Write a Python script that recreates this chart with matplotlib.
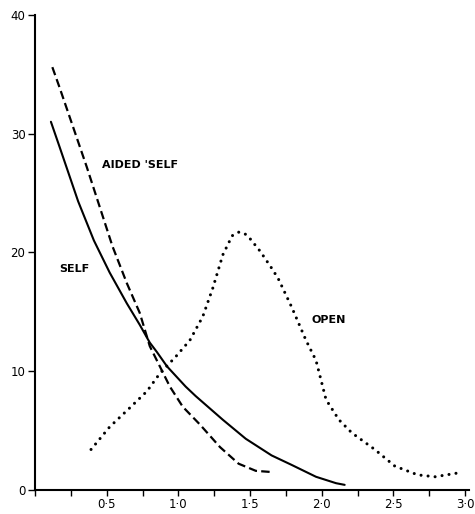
import matplotlib
matplotlib.use("Agg")
import matplotlib.pyplot as plt
from matplotlib.ticker import FixedLocator, MultipleLocator

# values
aided_x = [0.12, 0.17, 0.36, 0.54, 0.64, 0.73, 0.80, 0.87, 0.94, 1.03, 1.15, 1.29, 1.42, 1.54, 1.65]
aided_y = [35.6, 33.9, 27.2, 20.5, 17.4, 14.9, 12.1, 10.4, 8.7, 7.0, 5.5, 3.6, 2.2, 1.6, 1.5]

self_x = [0.11, 0.17, 0.30, 0.41, 0.52, 0.64, 0.73, 0.80, 0.85, 0.92, 1.05, 1.12, 1.31, 1.47,
          1.65, 1.79, 1.96, 2.10, 2.16]
self_y = [31.0, 28.9, 24.3, 21.0, 18.3, 15.7, 13.9, 12.4, 11.6, 10.4, 8.7, 7.9, 5.9, 4.3,
          2.9, 2.1, 1.1, 0.56, 0.42]

open_x = [0.39, 0.52, 0.66, 0.78, 0.87, 0.98, 1.08, 1.17, 1.24, 1.31, 1.375, 1.42, 1.46, 1.49,
          1.57, 1.66, 1.70, 1.79, 1.89, 1.96, 2.03, 2.12, 2.21, 2.37, 2.51, 2.67, 2.79, 2.94]
open_y = [3.4, 5.3, 6.9, 8.3, 9.8, 11.2, 12.6, 14.6, 17.0, 19.8, 21.4, 21.7, 21.6, 21.3,
          20.1, 18.5, 17.7, 15.4, 12.6, 10.9, 7.6, 5.9, 4.8, 3.4, 2.0, 1.26, 1.1, 1.4]

x_ticks = [0.5, 1.0, 1.5, 2.0, 2.5, 3.0]
x_labels = ['0·5', '1·0', '1·5', '2·0', '2·5', '3·0']
y_ticks = [0, 10, 20, 30, 40]

fig = plt.figure(figsize=(4.75, 5.14), dpi=100)
ax = fig.add_axes([0.074, 0.047, 0.905, 0.924])

ax.plot(self_x, self_y, color='black', lw=1.5, solid_capstyle='round',
        solid_joinstyle='round')
ax.plot(aided_x, aided_y, color='black', lw=1.6, linestyle=(0, (3.8, 1.9)))
ax.plot(open_x, open_y, color='black', lw=2.2, linestyle=(0, (0.01, 2.3)),
        dash_capstyle='round')

lab = dict(fontsize=8, fontweight='bold', color='black')
ax.text(0.47, 27.4, "AIDED 'SELF", va='center', ha='left', **lab)
ax.text(0.17, 18.6, "SELF", va='center', ha='left', **lab)
ax.text(1.93, 14.3, "OPEN", va='center', ha='left', **lab)

ax.set_xlim(0, 3.0)
ax.set_ylim(0, 40)
ax.spines['top'].set_visible(False)
ax.spines['right'].set_visible(False)
ax.spines['left'].set_linewidth(1.5)
ax.spines['bottom'].set_linewidth(1.5)
ax.spines['bottom'].set_bounds(0, 3.03)

ax.xaxis.set_major_locator(FixedLocator(x_ticks))
ax.set_xticklabels(x_labels)
ax.xaxis.set_minor_locator(MultipleLocator(0.25))
ax.set_yticks(y_ticks)
ax.tick_params(axis='both', which='both', direction='out', length=4, width=1,
               labelsize=8.5, pad=2)
ax.tick_params(axis='y', length=5)

fig.savefig('out.png', dpi=100)
